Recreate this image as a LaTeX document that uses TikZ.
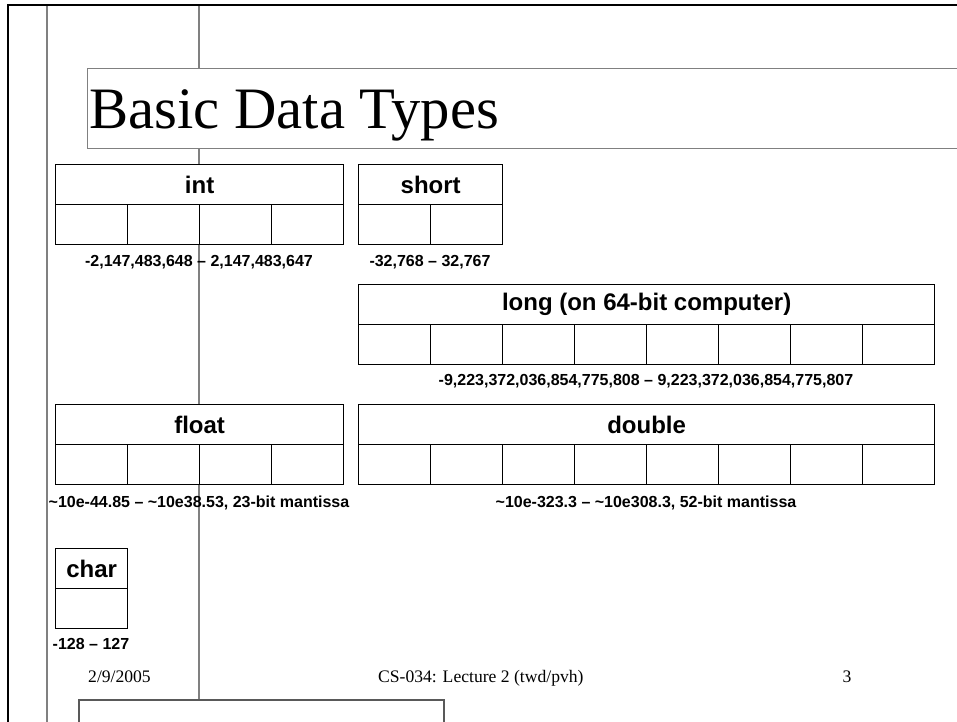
\documentclass[tikz,border=0pt]{standalone}
\usepackage{fontspec}
\setmainfont{Liberation Serif}
\setsansfont{Liberation Sans}
\begin{document}
\begin{tikzpicture}[x=1pt,y=-1pt,
  outerframe/.style={line width=2.5pt,black},
  guideline/.style={line width=1.3pt,draw=black!50},
  hdrbox/.style={draw=black,fill=white,line width=1.3pt,minimum height=40pt,
    inner sep=0pt,anchor=north west,
    font=\sffamily\bfseries\fontsize{24}{28}\selectfont},
  cellbox/.style={draw=black,fill=white,line width=1.3pt,minimum height=40pt,
    minimum width=72pt,inner sep=0pt,anchor=north west},
  rangetext/.style={anchor=base,inner sep=0pt,
    font=\sffamily\bfseries\fontsize{16}{18}\selectfont},
  foottext/.style={inner sep=0pt,font=\fontsize{17.6}{20}\selectfont}]
\useasboundingbox (0,0) rectangle (957,721);
\clip (0,0) rectangle (957,721);

% guide lines
\coordinate (gA1) at (47,5);
\coordinate (gA2) at (47,730);
\draw[guideline] (gA1) -- (gA2);
\coordinate (gB1) at (199,5);
\coordinate (gB2) at (199,700);
\draw[guideline] (gB1) -- (gB2);

% outer frame
\coordinate (fTL) at (8,5);
\coordinate (fBL) at (8,730);
\coordinate (fTR) at (970,5);
\draw[outerframe] (fBL) -- (fTL) -- (fTR);

% title
\node[draw=black!50,line width=1.3pt,fill=white,anchor=north west,
  minimum width=900pt,minimum height=80pt,inner sep=0pt] (titlebox) at (87,68) {};
\node[anchor=base west,inner sep=0pt,font=\fontsize{58.7}{64}\selectfont]
  (title) at (89,128) {Basic Data Types};

% type boxes: header row plus one cell per byte
\node[hdrbox,minimum width=288pt] (int) at (55,164) {int};
\foreach \i in {1,...,4}
  \node[cellbox] (int-\i) at ({55+72*(\i-1)},204) {};
\node[rangetext] (int-r) at (199,266) {-2,147,483,648 \textendash\ 2,147,483,647};

\node[hdrbox,minimum width=144pt] (short) at (358,164) {short};
\foreach \i in {1,...,2}
  \node[cellbox] (short-\i) at ({358+72*(\i-1)},204) {};
\node[rangetext] (short-r) at (430,266) {-32,768 \textendash\ 32,767};

\node[hdrbox,minimum width=576pt] (long) at (358,284) {long (on 64-bit computer)};
\foreach \i in {1,...,8}
  \node[cellbox] (long-\i) at ({358+72*(\i-1)},324) {};
\node[rangetext] (long-r) at (646,385)
  {-9,223,372,036,854,775,808 \textendash\ 9,223,372,036,854,775,807};

\node[hdrbox,minimum width=288pt] (float) at (55,404) {float};
\foreach \i in {1,...,4}
  \node[cellbox] (float-\i) at ({55+72*(\i-1)},444) {};
\node[rangetext] (float-r) at (199,507)
  {\textasciitilde10e-44.85 \textendash\ \textasciitilde10e38.53, 23-bit mantissa};

\node[hdrbox,minimum width=576pt] (double) at (358,404) {double};
\foreach \i in {1,...,8}
  \node[cellbox] (double-\i) at ({358+72*(\i-1)},444) {};
\node[rangetext] (double-r) at (646,507)
  {\textasciitilde10e-323.3 \textendash\ \textasciitilde10e308.3, 52-bit mantissa};

\node[hdrbox,minimum width=72pt] (char) at (55,548) {char};
\node[cellbox] (char-1) at (55,588) {};
\node[rangetext] (char-r) at (91,649) {-128 \textendash\ 127};

% footer
\node[foottext,anchor=base west] (date) at (88,682) {2/9/2005};
\node[foottext,anchor=base west] (course) at (378,682) {CS-034: Lecture 2 (twd/pvh)};
\node[foottext,anchor=base] (page) at (847,682) {3};

% box below the footer
\coordinate (bL) at (79,730);
\coordinate (bR) at (444,730);
\coordinate (bTL) at (79,700);
\coordinate (bTR) at (444,700);
\draw[line width=1.3pt,draw=black!65] (bL) -- (bTL) -- (bTR) -- (bR);
\end{tikzpicture}
\end{document}
